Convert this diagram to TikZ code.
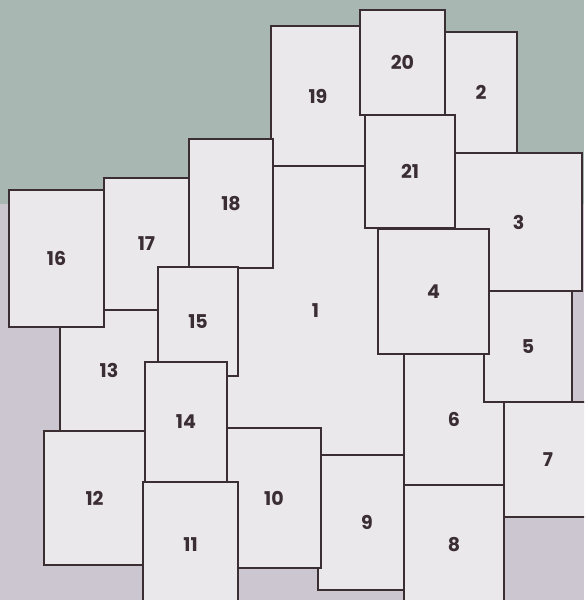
\documentclass[tikz,border=0pt]{standalone}
\usepackage{fontspec}
\setmainfont{Poppins}
\definecolor{upper}{HTML}{A9B7B3}
\definecolor{lower}{HTML}{CBC6D0}
\definecolor{tilefill}{HTML}{EBE8EB}
\definecolor{ink}{HTML}{3A2E33}

\begin{document}
\begin{tikzpicture}[x=1pt,y=-1pt, every node/.style={font=\bfseries\fontsize{19}{19}\selectfont,text=ink,align=center}, tile/.style={draw=ink,fill=tilefill,line width=1.9pt,inner sep=0pt,outer sep=0pt}]
 \clip (0,0) rectangle (584,600);
 \fill[lower] (0,0) rectangle (584,600);
 \fill[upper] (0,0) rectangle (584,204);
 \node[tile,minimum width=94pt,minimum height=140pt] (t19) at (318,96) {19};
 \node[tile,minimum width=177pt,minimum height=289pt] (t1) at (315.5,310.5) {1};
 \node[tile,minimum width=98pt,minimum height=135pt] (t9) at (367,522.5) {9};
 \node[tile,minimum width=100pt,minimum height=131pt] (t6) at (454,419.5) {6};
 \node[tile,minimum width=72pt,minimum height=121pt] (t2) at (481,92.5) {2};
 \node[tile,minimum width=85pt,minimum height=105pt] (t20) at (402.5,62.5) {20};
 \node[tile,minimum width=127pt,minimum height=138pt] (t3) at (518.5,222) {3};
 \node[tile,minimum width=90pt,minimum height=113pt] (t21) at (410,171.5) {21};
 \node[tile,minimum width=88pt,minimum height=111pt] (t5) at (528,346.5) {5};
 \node[tile,minimum width=111pt,minimum height=125pt] (t4) at (433.5,291.5) {4};
 \node[tile,minimum width=88pt,minimum height=115pt] (t7) at (548,459.5) {7};
 \node[tile,minimum width=100pt,minimum height=120pt] (t8) at (454,545) {8};
 \node[tile,minimum width=94pt,minimum height=140pt] (t10) at (274,498) {10};
 \node[tile,minimum width=85pt,minimum height=132pt] (t17) at (146.5,244) {17};
 \node[tile,minimum width=98pt,minimum height=121pt] (t13) at (109,370.5) {13};
 \node[tile,minimum width=95pt,minimum height=137pt] (t16) at (56.5,258.5) {16};
 \node[tile,minimum width=84pt,minimum height=129pt] (t18) at (231,203.5) {18};
 \node[tile,minimum width=80pt,minimum height=109pt] (t15) at (198,321.5) {15};
 \node[tile,minimum width=82pt,minimum height=120pt] (t14) at (186,422) {14};
 \node[tile,minimum width=101pt,minimum height=134pt] (t12) at (94.5,498) {12};
 \node[tile,minimum width=95pt,minimum height=126pt] (t11) at (190.5,545) {11};
\end{tikzpicture}
\end{document}
